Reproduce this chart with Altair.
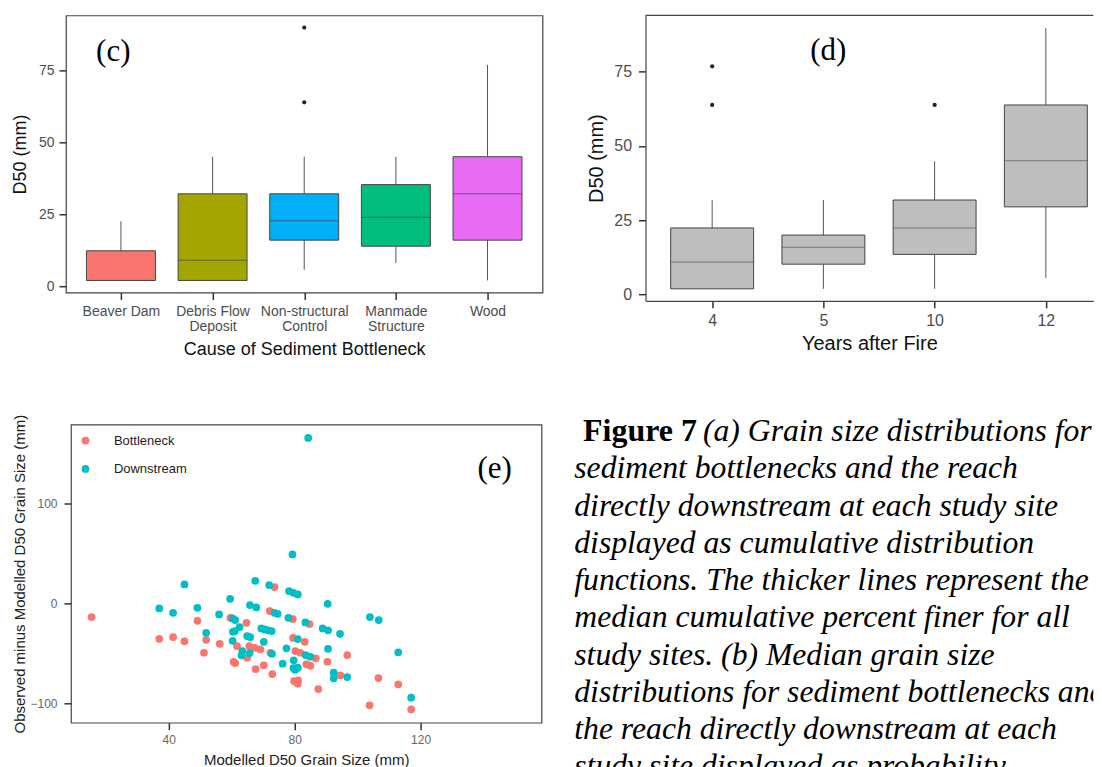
import altair as alt
import pandas as pd

# ---------------- panel (c) ----------------
c_categories = ["Beaver Dam", "Debris Flow\nDeposit", "Non-structural\nControl",
                "Manmade\nStructure", "Wood"]
c_lower = [2.0, 2.0, 5.7, 8.1, 2.0]
c_q1 = [2.0, 2.0, 16.0, 13.9, 16.0]
c_median = [2.0, 9.0, 22.7, 24.0, 32.1]
c_q3 = [12.3, 32.1, 32.1, 35.3, 45.0]
c_upper = [22.6, 45.0, 45.0, 45.0, 76.9]
c_colors = ["#F8766D", "#A3A500", "#00B0F6", "#00BF7D", "#E76BF3"]
c_outlier_cat = ["Non-structural\nControl", "Non-structural\nControl"]
c_outlier_val = [63.9, 89.9]

# ---------------- panel (d) ----------------
d_years = ["4", "5", "10", "12"]
d_lower = [1.9, 1.9, 1.9, 5.6]
d_q1 = [1.9, 10.2, 13.5, 29.5]
d_median = [10.9, 15.9, 22.4, 45.0]
d_q3 = [22.4, 20.0, 31.8, 63.8]
d_upper = [31.8, 31.8, 44.8, 89.7]
d_outlier_year = ["4", "4", "10"]
d_outlier_val = [63.8, 76.8, 63.8]

# ---------------- panel (e) ----------------
bott_x = [15.5, 49.1, 37.0, 41.4, 45.0, 51.9, 56.2, 51.2, 73.6, 72.1, 59.6, 79.4, 64.7,
          84.7, 79.5, 83.2, 96.7, 80.2, 81.8, 61.7, 65.6, 67.3, 69.1, 64.9, 60.6, 61.1,
          86.7, 83.7, 85.0, 90.4, 70.2, 67.6, 72.9, 94.5, 79.8, 81.1, 81.0, 87.5, 106.6,
          112.9, 103.8, 117.0, 72.3]
bott_y = [-13.7, -17.4, -35.4, -33.7, -38.0, -36.4, -40.4, -49.4, 16.3, -7.7, -14.4, -15.7,
          -19.4, -20.7, -34.4, -38.4, -51.7, -47.7, -49.4, -42.7, -42.7, -44.4, -46.0, -54.4,
          -58.4, -59.7, -55.0, -61.0, -62.4, -58.4, -62.0, -65.7, -70.7, -72.0, -77.7, -77.0,
          -80.4, -85.7, -74.7, -81.0, -102.0, -106.0, -49.4]
down_x = [84.3, 79.3, 45.0, 67.5, 71.9, 78.2, 79.6, 81.0, 59.5, 90.5, 65.8, 67.8, 37.0,
          41.4, 49.1, 56.0, 51.9, 73.6, 74.6, 60.3, 61.1, 78.0, 83.4, 69.4, 70.5, 71.6,
          72.7, 88.9, 90.6, 94.4, 61.0, 62.5, 64.9, 65.9, 60.3, 70.2, 77.4, 81.0, 90.6,
          63.4, 63.1, 65.7, 72.8, 83.5, 85.0, 79.7, 76.2, 79.6, 81.0, 92.4, 92.4, 96.7,
          103.9, 106.7, 112.9, 117.0, 60.4, 80.1]
down_y = [165.6, 49.0, 19.0, 22.6, 18.3, 12.3, 10.6, 9.0, 4.6, -0.4, -1.7, -4.0, -5.0,
          -9.4, -4.4, -11.0, -29.4, -9.4, -10.4, -15.0, -16.7, -14.4, -19.0, -25.0, -26.0,
          -27.0, -27.7, -25.0, -27.0, -30.4, -27.7, -23.7, -32.7, -33.7, -37.4, -38.4,
          -45.0, -35.7, -45.4, -47.7, -52.0, -49.7, -50.4, -51.7, -53.4, -57.0, -60.4,
          -64.7, -64.4, -69.4, -75.0, -73.7, -13.7, -16.7, -49.0, -94.4, -28.4, -66.4]
e_groups = ["Bottleneck", "Downstream"]
e_colors = ["#F8766D", "#00BFC4"]

# ---------------- caption ----------------
caption_bold = "Figure 7"
caption_lines = [
    "(a) Grain size distributions for",
    "sediment bottlenecks and the reach",
    "directly downstream at each study site",
    "displayed as cumulative distribution",
    "functions. The thicker lines represent the",
    "median cumulative percent finer for all",
    "study sites. (b) Median grain size",
    "distributions for sediment bottlenecks and",
    "the reach directly downstream at each",
    "study site displayed as probability",
]

SANS = "Liberation Sans"
SERIF = "Liberation Serif"
TICK = dict(tickSize=7, tickWidth=1.5, tickColor="#333333", grid=False)
one = pd.DataFrame({"k": [0]})


def panel_label(txt, px, py):
    return alt.Chart(one).mark_text(text=txt, font=SERIF, fontSize=31, fontWeight="normal",
                                    align="center", baseline="alphabetic",
                                    color="#000000").encode(x=alt.value(px), y=alt.value(py))


# ================= (c) =================
W_C, H_C = 477, 277.3
c_df = pd.DataFrame(dict(cat=c_categories, lo=c_lower, q1=c_q1, med=c_median,
                         q3=c_q3, hi=c_upper))
c_out = pd.DataFrame(dict(cat=c_outlier_cat, val=c_outlier_val))
c_xs = alt.Scale(type="point", padding=0.6, domain=c_categories)
c_ys = alt.Scale(domain=[-2.19, 94.1], nice=False, zero=False)
c_xaxis = alt.Axis(title="Cause of Sediment Bottleneck", labelAngle=0,
                   labelExpr="split(datum.label, '\\n')", labelFontSize=14,
                   labelColor="#4d4d4d", labelLineHeight=15, labelPadding=5,
                   domain=False, titleFontSize=18, titleFontWeight="normal",
                   titleColor="#111111", titleY=57, titleBaseline="middle", **TICK)
c_yaxis = alt.Axis(title="D50 (mm)", values=[0, 25, 50, 75], labelFontSize=14,
                   labelColor="#4d4d4d", labelPadding=5, domain=False,
                   titleFontSize=18, titleFontWeight="normal", titleColor="#111111",
                   titleX=-45.2, titleY=H_C / 2, titleBaseline="middle", **TICK)
cx = alt.X("cat:N", sort=c_categories, scale=c_xs, axis=c_xaxis)
c_base = alt.Chart(c_df)
c_whisk = c_base.mark_rule(color="#555555", strokeWidth=1).encode(
    x=cx, y=alt.Y("lo:Q", scale=c_ys, axis=c_yaxis), y2="hi:Q")
c_box = c_base.mark_bar(size=69, stroke="#444444", strokeWidth=1).encode(
    x=cx, y=alt.Y("q1:Q", scale=c_ys, axis=c_yaxis), y2="q3:Q",
    color=alt.Color("cat:N", scale=alt.Scale(domain=c_categories, range=c_colors),
                    legend=None))
c_med = c_base.mark_tick(size=69, thickness=1, color="#444444").encode(
    x=cx, y=alt.Y("med:Q", scale=c_ys, axis=c_yaxis))
c_pts = alt.Chart(c_out).mark_circle(size=18, color="#222222", opacity=1).encode(
    x=cx, y=alt.Y("val:Q", scale=c_ys, axis=c_yaxis))
panel_c = alt.layer(c_whisk, c_box, c_med, c_pts, panel_label("(c)", 47.4, 45.8)).properties(
    width=W_C, height=H_C)

# ================= (d) =================
W_D, H_D = 448.2, 285.6
d_df = pd.DataFrame(dict(yr=d_years, lo=d_lower, q1=d_q1, med=d_median, q3=d_q3, hi=d_upper))
d_out = pd.DataFrame(dict(yr=d_outlier_year, val=d_outlier_val))
d_xs = alt.Scale(type="point", padding=0.51295, align=0.5841, domain=d_years)
d_ys = alt.Scale(domain=[-2.12, 93.94], nice=False, zero=False)
d_xaxis = alt.Axis(title="Years after Fire", labelAngle=0, labelFontSize=16,
                   labelColor="#4d4d4d", labelPadding=5, domain=True,
                   domainColor="#444444", domainWidth=1.2, titleFontSize=20,
                   titleFontWeight="normal", titleColor="#111111", titleY=43,
                   titleBaseline="middle", **TICK)
d_yaxis = alt.Axis(title="D50 (mm)", values=[0, 25, 50, 75], labelFontSize=16,
                   labelColor="#4d4d4d", labelPadding=7, domain=True,
                   domainColor="#444444", domainWidth=1.2, titleFontSize=20,
                   titleFontWeight="normal", titleColor="#111111",
                   titleX=-48.6, titleY=H_D / 2, titleBaseline="middle", **TICK)
dx = alt.X("yr:N", sort=d_years, scale=d_xs, axis=d_xaxis)
d_base = alt.Chart(d_df)
d_whisk = d_base.mark_rule(color="#555555", strokeWidth=1).encode(
    x=dx, y=alt.Y("lo:Q", scale=d_ys, axis=d_yaxis), y2="hi:Q")
d_box = d_base.mark_bar(size=83, stroke="#444444", strokeWidth=1, color="#BEBEBE").encode(
    x=dx, y=alt.Y("q1:Q", scale=d_ys, axis=d_yaxis), y2="q3:Q")
d_med = d_base.mark_tick(size=83, thickness=1, color="#555555").encode(
    x=dx, y=alt.Y("med:Q", scale=d_ys, axis=d_yaxis))
d_pts = alt.Chart(d_out).mark_circle(size=18, color="#222222", opacity=1).encode(
    x=dx, y=alt.Y("val:Q", scale=d_ys, axis=d_yaxis))
d_top = alt.Chart(one).mark_rule(color="#444444", strokeWidth=1.2).encode(
    x=alt.value(0), x2=alt.value(W_D), y=alt.value(0))
panel_d = alt.layer(d_whisk, d_box, d_med, d_pts, d_top,
                    panel_label("(d)", 183.0, 44.6)).properties(
    width=W_D, height=H_D, view=alt.ViewBackground(stroke=None))

# ================= (e) =================
W_E, H_E = 471, 298.4
e_df = pd.DataFrame(dict(
    x=bott_x + down_x, y=bott_y + down_y,
    grp=[e_groups[0]] * len(bott_x) + [e_groups[1]] * len(down_x)))
e_pts = alt.Chart(e_df).mark_circle(size=60, opacity=1).encode(
    x=alt.X("x:Q", scale=alt.Scale(domain=[8.95, 158.4], nice=False, zero=False),
            axis=alt.Axis(title="Modelled D50 Grain Size (mm)", values=[40, 80, 120],
                          labelFontSize=12, labelColor="#666666", labelPadding=5,
                          domain=False, titleFontSize=15, titleFontWeight="normal",
                          titleColor="#222222", titleY=37.3, titleBaseline="middle", **TICK)),
    y=alt.Y("y:Q", scale=alt.Scale(domain=[-119.4, 179.0], nice=False, zero=False),
            axis=alt.Axis(title="Observed minus Modelled D50 Grain Size (mm)",
                          values=[-100, 0, 100], labelFontSize=12, labelColor="#666666",
                          labelPadding=7, domain=False, titleFontSize=15,
                          titleFontWeight="normal", titleColor="#222222",
                          titleX=-51.7, titleY=H_E / 2, titleBaseline="middle", **TICK)),
    color=alt.Color("grp:N", scale=alt.Scale(domain=e_groups, range=e_colors),
                    legend=alt.Legend(orient="none", legendX=8, legendY=9.5, title=None,
                                      symbolType="circle", symbolSize=60,
                                      symbolStrokeWidth=0, labelFontSize=13,
                                      labelColor="#222222", labelOffset=22,
                                      rowPadding=14.4, padding=0)),
    order=alt.Order("grp:N"))
panel_e = alt.layer(e_pts, panel_label("(e)", 424.1, 53.5)).properties(width=W_E, height=H_E)

spacer = alt.Chart(one).mark_point(opacity=0).encode(
    x=alt.value(0), y=alt.value(0)).properties(
    width=5, height=10, view=alt.ViewBackground(stroke=None))

# ================= caption =================
W_T, H_T = 552.3, 343.0
step = 37.3
first = 16.5
TX = 32.8
FS = 31.7
cap_df = pd.DataFrame(dict(line=list(range(len(caption_lines))), text=caption_lines))
bold_df = pd.DataFrame(dict(line=[0], text=[caption_bold]))
ty = alt.Y("line:Q", axis=None,
           scale=alt.Scale(domain=[-first / step, (H_T - first) / step],
                           reverse=True, nice=False, zero=False))
cap_first = alt.Chart(cap_df).transform_filter("datum.line == 0").mark_text(
    align="left", baseline="alphabetic", font=SERIF, fontSize=FS, fontStyle="italic",
    color="#000000").encode(x=alt.value(161.6), y=ty, text="text:N")
cap_rest = alt.Chart(cap_df).transform_filter("datum.line > 0").mark_text(
    align="left", baseline="alphabetic", font=SERIF, fontSize=FS, fontStyle="italic",
    color="#000000", clip=True).encode(x=alt.value(TX), y=ty, text="text:N")
cap_bold = alt.Chart(bold_df).mark_text(
    align="left", baseline="alphabetic", font=SERIF, fontSize=32, fontWeight="bold",
    color="#000000").encode(x=alt.value(41.6), y=ty, text="text:N")
panel_t = alt.layer(cap_first, cap_rest, cap_bold).properties(
    width=W_T, height=H_T, view=alt.ViewBackground(stroke=None))

row1 = alt.hconcat(panel_c, panel_d, spacing=103.1, bounds="flush").resolve_scale(
    color="independent")
row2 = alt.hconcat(spacer, panel_e, panel_t, spacing=0, bounds="flush").resolve_scale(
    color="independent")
chart = alt.vconcat(row1, row2, spacing=53.5).resolve_scale(color="independent").properties(
    padding={"left": 3, "top": 6.1, "right": 0, "bottom": 0}
).configure(font=SANS).configure_view(stroke="#444444", strokeWidth=1.2)

chart.save("out.html", embed_options={"renderer": "svg", "actions": False})
